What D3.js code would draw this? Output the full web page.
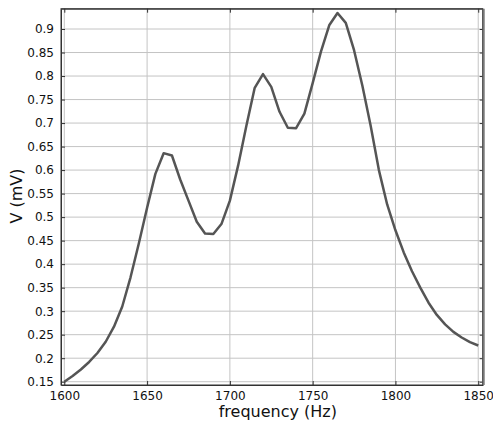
<!DOCTYPE html>
<html>
<head>
<meta charset="utf-8">
<script src="https://cdn.jsdelivr.net/npm/d3@7"></script>
<style>
  body { margin: 0; background: #fff; }
  text { font-family: "DejaVu Sans", sans-serif; }
</style>
</head>
<body>
<div id="chart"></div>
<script>
// frequency (Hz) and measured voltage (mV)
const freq = [1600, 1605, 1610, 1615, 1620, 1625, 1630, 1635, 1640, 1645,
              1650, 1655, 1660, 1665, 1670, 1675, 1680, 1685, 1690, 1695,
              1700, 1705, 1710, 1715, 1720, 1725, 1730, 1735, 1740, 1745,
              1750, 1755, 1760, 1765, 1770, 1775, 1780, 1785, 1790, 1795,
              1800, 1805, 1810, 1815, 1820, 1825, 1830, 1835, 1840, 1845, 1850];
const volts = [0.150, 0.162, 0.176, 0.192, 0.211, 0.235, 0.267, 0.310, 0.372, 0.444,
               0.520, 0.592, 0.636, 0.631, 0.580, 0.535, 0.490, 0.465, 0.464, 0.486,
               0.535, 0.610, 0.695, 0.775, 0.804, 0.777, 0.724, 0.690, 0.689, 0.720,
               0.785, 0.852, 0.908, 0.934, 0.913, 0.855, 0.780, 0.695, 0.600, 0.527,
               0.472, 0.425, 0.385, 0.350, 0.318, 0.292, 0.272, 0.256, 0.244, 0.234, 0.227];
const xTicks = [1600, 1650, 1700, 1750, 1800, 1850];
const yTicks = [0.15, 0.2, 0.25, 0.3, 0.35, 0.4, 0.45, 0.5, 0.55, 0.6,
                0.65, 0.7, 0.75, 0.8, 0.85, 0.9];

const margin = {top: 8.7, right: 10.3, bottom: 38, left: 61},
    width = 493 - margin.left - margin.right,
    height = 423 - margin.top - margin.bottom;

const svg = d3.select("#chart")
  .append("svg")
    .attr("width", 493)
    .attr("height", 423)
  .append("g")
    .attr("transform", `translate(${margin.left}, ${margin.top})`);

const x = d3.scaleLinear()
  .domain([1598, 1852.7])
  .range([0, width]);

const y = d3.scaleLinear()
  .domain([0.143, 0.9432])
  .range([height, 0]);

// grid
svg.append("g")
  .selectAll("line")
  .data(yTicks)
  .join("line")
    .attr("x1", 0).attr("x2", width)
    .attr("y1", d => y(d)).attr("y2", d => y(d))
    .attr("stroke", "#c4c4c4")
    .attr("stroke-width", 1);

svg.append("g")
  .selectAll("line")
  .data(xTicks)
  .join("line")
    .attr("x1", d => x(d)).attr("x2", d => x(d))
    .attr("y1", 0).attr("y2", height)
    .attr("stroke", "#c4c4c4")
    .attr("stroke-width", 1);

const fmt = d3.format(".2~f");

// bottom axis, ticks pointing inward
svg.append("g")
  .attr("transform", `translate(0, ${height})`)
  .call(d3.axisBottom(x).tickValues(xTicks).tickSize(-4).tickPadding(6.5)
    .tickFormat(d3.format("d")).tickSizeOuter(0));
// top ticks
svg.append("g")
  .call(d3.axisTop(x).tickValues(xTicks).tickSize(-4).tickFormat("").tickSizeOuter(0));
// left axis
svg.append("g")
  .call(d3.axisLeft(y).tickValues(yTicks).tickSize(-4).tickPadding(7).tickFormat(fmt).tickSizeOuter(0));
// right ticks
svg.append("g")
  .attr("transform", `translate(${width}, 0)`)
  .call(d3.axisRight(y).tickValues(yTicks).tickSize(-3).tickFormat("").tickSizeOuter(0));

svg.selectAll(".tick line").attr("stroke", "#333");
svg.selectAll(".domain").attr("stroke", "#333");
svg.selectAll(".tick text")
  .attr("fill", "#111")
  .style("font-size", "12px")
  .style("font-family", "DejaVu Sans, sans-serif");

// frame
svg.append("rect")
  .attr("width", width)
  .attr("height", height)
  .attr("fill", "none")
  .attr("stroke", "#333")
  .attr("stroke-width", 1);
svg.append("line")
  .attr("x1", width + 1).attr("x2", width + 1)
  .attr("y1", 0).attr("y2", height)
  .attr("stroke", "#777")
  .attr("stroke-width", 2);

// curve
const pts = freq.map((f, i) => [f, volts[i]]);
svg.append("path")
  .datum(pts)
  .attr("fill", "none")
  .attr("stroke", "#555")
  .attr("stroke-width", 2.5)
  .attr("stroke-linejoin", "round")
  .attr("d", d3.line().x(d => x(d[0])).y(d => y(d[1])));

// axis titles
svg.append("text")
  .attr("x", width / 2 + 6)
  .attr("y", height + 32.5)
  .attr("text-anchor", "middle")
  .style("font-size", "16px")
  .attr("fill", "#111")
  .text("frequency (Hz)");

svg.append("text")
  .attr("transform", `translate(${22 - margin.left}, ${196 - margin.top}) rotate(-90)`)
  .attr("text-anchor", "middle")
  .style("font-size", "16px")
  .attr("fill", "#111")
  .text("V (mV)");
</script>
</body>
</html>
